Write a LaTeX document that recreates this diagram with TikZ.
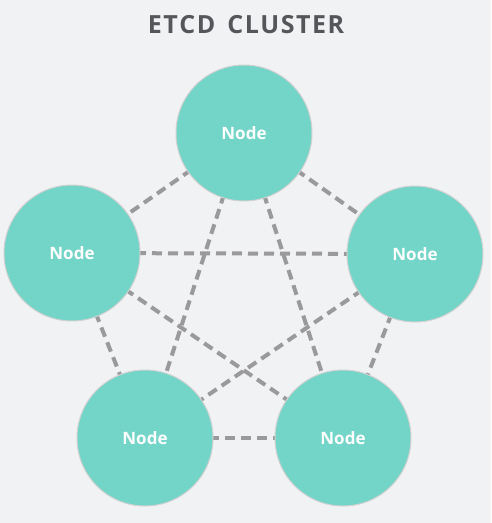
\documentclass[tikz,border=0pt]{standalone}
\usepackage{fontspec}
\setmainfont{Open Sans}
\usepackage{tikz}

\definecolor{bgcol}{HTML}{F1F2F4}
\definecolor{nodecol}{HTML}{73D5C8}
\definecolor{linkcol}{HTML}{9A9A9C}
\definecolor{titlecol}{HTML}{555659}

\newcommand{\gapx}{\hspace{1.5pt}}

\tikzset{
    member/.style={circle, fill=nodecol, draw=black!18, line width=1pt, minimum size=136pt, inner sep=0pt, text=white, font=\bfseries\fontsize{17}{17}\selectfont},
    link/.style={color=linkcol, line width=4pt, dash pattern=on 10pt off 6pt}
}

\begin{document}
\begin{tikzpicture}[x=1pt, y=-1pt]
            % draw background
            \fill[bgcol] (0, 0) rectangle (491, 523);
            \useasboundingbox (0, 0) rectangle (491, 523);

            % draw title
            \node[text=titlecol, font=\bfseries\fontsize{25}{25}\selectfont] (title) at (246, 25) {E\gapx T\gapx C\gapx D\hspace{12pt}C\gapx L\gapx U\gapx S\gapx T\gapx E\gapx R};

            % place cluster members
            \coordinate (ptop) at (244, 133);
            \coordinate (pleft) at (72, 253);
            \coordinate (pright) at (415, 254);
            \coordinate (pbotleft) at (145, 438);
            \coordinate (pbotright) at (343, 438);

            % draw dashed links
            \draw[link] (ptop) -- (pleft);
            \draw[link] (ptop) -- (pright);
            \draw[link] (ptop) -- (pbotleft);
            \draw[link] (ptop) -- (pbotright);
            \draw[link] (pleft) -- (pright);
            \draw[link] (pleft) -- (pbotleft);
            \draw[link] (pleft) -- (pbotright);
            \draw[link] (pright) -- (pbotleft);
            \draw[link] (pright) -- (pbotright);
            \draw[link] (pbotleft) -- (pbotright);

            % draw members on top
            \node[member] (top) at (ptop) {Node};
            \node[member] (left) at (pleft) {Node};
            \node[member] (right) at (pright) {Node};
            \node[member] (botleft) at (pbotleft) {Node};
            \node[member] (botright) at (pbotright) {Node};
        \end{tikzpicture}
\end{document}
